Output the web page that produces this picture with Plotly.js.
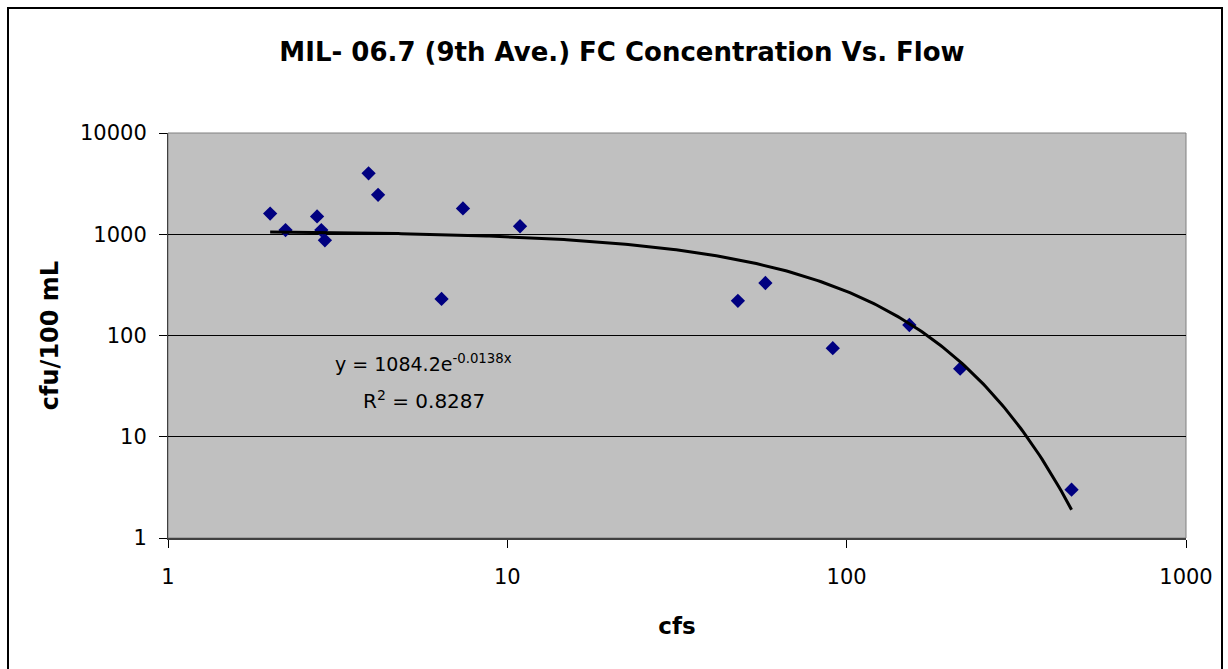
<!DOCTYPE html>
<html>
<head>
<meta charset="utf-8">
<script src="https://cdn.plot.ly/plotly-3.0.1.min.js"></script>
<style>
  html, body { margin: 0; padding: 0; background: #ffffff; }
  #chart { width: 1228px; height: 669px; }
</style>
</head>
<body>
<div id="chart"></div>
<script>
// Flow (cfs) and fecal coliform concentration (cfu/100 mL) samples
const flowCfs = [2.0, 2.22, 2.75, 2.83, 2.9, 3.9, 4.16, 6.4, 7.4, 10.9, 47.8, 57.6, 91, 153, 216, 460];
const fcConc  = [1600, 1100, 1500, 1100, 870, 4000, 2450, 230, 1800, 1200, 220, 330, 75, 127, 47, 3];

// Exponential trendline coefficients: y = a * e^(b x)
const trendA = 1084.2;
const trendB = -0.0138;
const trendR2 = 0.8287;

// Axis ticks
const xTicks = [1, 10, 100, 1000];
const yTicks = [1, 10, 100, 1000, 10000];

// Sample the trendline across the observed flow range (log-spaced for a smooth curve)
const xMin = Math.min(...flowCfs), xMax = Math.max(...flowCfs);
const nSteps = 300;
const trendX = [], trendY = [];
for (let i = 0; i <= nSteps; i++) {
  const x = Math.pow(10, Math.log10(xMin) + (Math.log10(xMax) - Math.log10(xMin)) * i / nSteps);
  trendX.push(x);
  trendY.push(trendA * Math.exp(trendB * x));
}

const FONT = '"DejaVu Sans", Arial, sans-serif';

const traces = [
  {
    x: flowCfs, y: fcConc, type: 'scatter', mode: 'markers',
    marker: { symbol: 'diamond', size: 11, color: '#000080', line: { width: 0 } },
    hoverinfo: 'x+y', showlegend: false
  },
  {
    x: trendX, y: trendY, type: 'scatter', mode: 'lines',
    line: { color: '#000000', width: 3 },
    hoverinfo: 'skip', showlegend: false
  }
];

const layout = {
  width: 1228, height: 669,
  margin: { l: 168, r: 42, t: 133, b: 131 },
  paper_bgcolor: '#ffffff',
  plot_bgcolor: '#c0c0c0',
  font: { family: FONT, color: '#000000', size: 21 },
  title: {
    text: '<b>MIL- 06.7 (9th Ave.) FC Concentration Vs. Flow</b>',
    font: { family: FONT, size: 26, color: '#000000' },
    x: 622 / 1228, xanchor: 'center', xref: 'container',
    y: 1 - 52 / 669, yanchor: 'middle', yref: 'container'
  },
  xaxis: {
    type: 'log', range: [0, 3],
    tickvals: xTicks, ticktext: xTicks.map(String),
    ticks: 'outside', ticklen: 8, tickcolor: '#000000', tickwidth: 1,
    ticklabelstandoff: 11,
    showgrid: false, zeroline: false,
    showline: true, linecolor: '#404040', linewidth: 2,
    tickfont: { family: FONT, size: 21, color: '#000000' },
    title: { text: '<b>cfs</b>', font: { family: FONT, size: 23, color: '#000000' }, standoff: 30 }
  },
  yaxis: {
    type: 'log', range: [0, 4],
    tickvals: yTicks, ticktext: yTicks.map(String),
    ticks: 'outside', ticklen: 8, tickcolor: '#000000', tickwidth: 1,
    ticklabelstandoff: 8,
    showgrid: true, gridcolor: '#000000', gridwidth: 1,
    zeroline: false,
    showline: true, linecolor: '#404040', linewidth: 1,
    tickfont: { family: FONT, size: 21, color: '#000000' },
    title: { text: '<b>cfu/100 mL</b>', font: { family: FONT, size: 24, color: '#000000' }, standoff: 14 }
  },
  shapes: [
    // grey frame around the plotting area
    { type: 'rect', xref: 'paper', yref: 'paper', x0: 0, x1: 1, y0: 0, y1: 1,
      line: { color: '#808080', width: 1 }, fillcolor: 'rgba(0,0,0,0)', layer: 'below' },
    // outer chart border
    { type: 'rect', xref: 'paper', yref: 'paper',
      x0: (8 - 168) / 1018, x1: (1222 - 168) / 1018,
      y0: (538 - 690) / 405, y1: (538 - 8) / 405,
      line: { color: '#000000', width: 2 }, fillcolor: 'rgba(0,0,0,0)' }
  ],
  annotations: [
    { xref: 'paper', yref: 'paper', x: 0.2505, y: 0.431, xanchor: 'center', yanchor: 'middle',
      text: 'y = ' + trendA + 'e<sup>' + trendB + 'x</sup>', showarrow: false,
      font: { family: FONT, size: 19, color: '#000000' } },
    { xref: 'paper', yref: 'paper', x: 0.251, y: 0.341, xanchor: 'center', yanchor: 'middle',
      text: 'R<sup>2</sup> = ' + trendR2, showarrow: false,
      font: { family: FONT, size: 20, color: '#000000' } }
  ]
};

Plotly.newPlot('chart', traces, layout, { displayModeBar: false, staticPlot: true });
</script>
</body>
</html>
